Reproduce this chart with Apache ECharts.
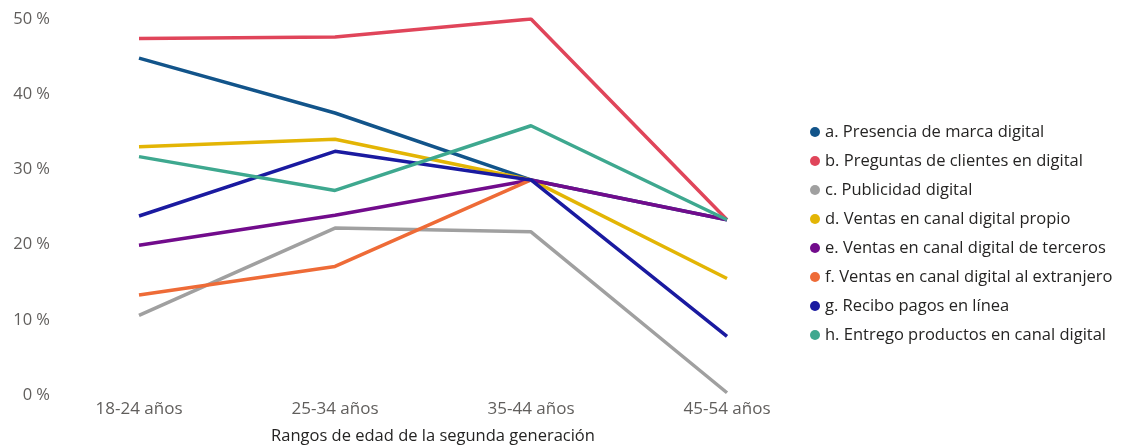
<!DOCTYPE html>
<html>
<head>
<meta charset="utf-8">
<script src="https://cdn.jsdelivr.net/npm/echarts@6/dist/echarts.min.js"></script>
<style>
  html, body { margin: 0; padding: 0; background: #fff; }
  #chart { width: 1122px; height: 447px; }
</style>
</head>
<body>
<div id="chart"></div>
<script>
// rangos de edad
var categorias = ['18-24 años', '25-34 años', '35-44 años', '45-54 años'];

var presenciaMarca = [44.8, 37.5, 28.6, 23.3];
var preguntasClientes = [47.4, 47.6, 50.0, 23.3];
var publicidad = [10.6, 22.2, 21.7, 0.3];
var ventasPropio = [33.0, 34.0, 28.6, 15.5];
var ventasTerceros = [19.9, 23.9, 28.6, 23.3];
var ventasExtranjero = [13.3, 17.1, 28.6, null];
var pagosLinea = [23.8, 32.4, 28.6, 7.8];
var entregoProductos = [31.7, 27.2, 35.8, 23.3];

var nombres = [
  'a. Presencia de marca digital',
  'b. Preguntas de clientes en digital',
  'c. Publicidad digital',
  'd. Ventas en canal digital propio',
  'e. Ventas en canal digital de terceros',
  'f. Ventas en canal digital al extranjero',
  'g. Recibo pagos en línea',
  'h. Entrego productos en canal digital'
];
var colores = ['#12548A', '#E0455A', '#A0A0A0', '#E3B505', '#720C8C', '#EE6B37', '#1A1AA0', '#3EA88F'];
var datos = [presenciaMarca, preguntasClientes, publicidad, ventasPropio,
             ventasTerceros, ventasExtranjero, pagosLinea, entregoProductos];

var fuente = '"Open Sans", "Noto Sans", sans-serif';

var series = datos.map(function (d, i) {
  return {
    name: nombres[i],
    type: 'line',
    data: d,
    symbol: 'none',
    lineStyle: { width: 3.5, color: colores[i] },
    itemStyle: { color: colores[i] }
  };
});

var myChart = echarts.init(document.getElementById('chart'));
myChart.setOption({
  animation: false,
  textStyle: { fontFamily: fuente },
  legend: {
    orient: 'vertical',
    left: 805,
    top: 117,
    icon: 'circle',
    itemWidth: 10,
    itemHeight: 10,
    itemGap: 9,
    textStyle: { fontSize: 16.5, color: '#252423', fontFamily: fuente, lineHeight: 20 },
    data: nombres
  },
  grid: { left: 41, right: 297, top: 19, bottom: 52, outerBoundsMode: 'none' },
  xAxis: {
    type: 'category',
    data: categorias,
    boundaryGap: true,
    axisLine: { show: false },
    axisTick: { show: false },
    axisLabel: { fontSize: 17, color: '#605E5C', margin: 6, fontFamily: fuente },
    name: 'Rangos de edad de la segunda generación',
    nameLocation: 'middle',
    nameGap: 33,
    nameTextStyle: { fontSize: 16.5, color: '#252423', fontFamily: fuente }
  },
  yAxis: {
    type: 'value',
    min: 0,
    max: 50,
    interval: 10,
    splitLine: { show: false },
    axisLine: { show: false },
    axisTick: { show: false },
    axisLabel: {
      fontSize: 16.5, color: '#605E5C', margin: -9, fontFamily: fuente,
      formatter: function (v) { return v + ' %'; }
    }
  },
  series: series
});
</script>
</body>
</html>
